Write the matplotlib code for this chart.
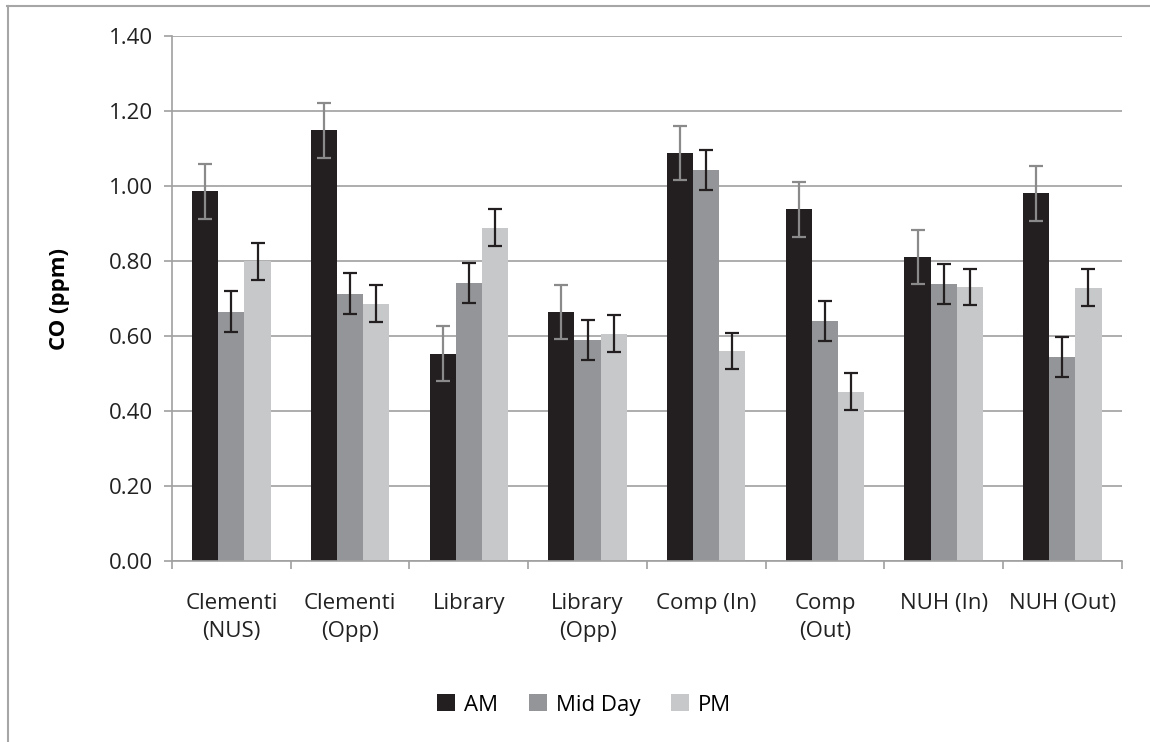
import matplotlib.pyplot as plt
import numpy as np
from matplotlib.lines import Line2D

# ---------- data ----------
sites = ['Clementi\n(NUS)', 'Clementi\n(Opp)', 'Library', 'Library\n(Opp)',
         'Comp (In)', 'Comp\n(Out)', 'NUH (In)', 'NUH (Out)']
am     = [0.986, 1.148, 0.553, 0.664, 1.088, 0.938, 0.811, 0.981]
midday = [0.665, 0.713, 0.741, 0.589, 1.043, 0.640, 0.739, 0.544]
pm     = [0.799, 0.686, 0.889, 0.606, 0.560, 0.452, 0.731, 0.729]
am_err     = [0.073, 0.073, 0.073, 0.073, 0.073, 0.073, 0.073, 0.073]
midday_err = [0.054, 0.054, 0.054, 0.054, 0.054, 0.054, 0.054, 0.054]
pm_err     = [0.049, 0.049, 0.049, 0.049, 0.049, 0.049, 0.049, 0.049]
yticks = [0.0, 0.2, 0.4, 0.6, 0.8, 1.0, 1.2, 1.4]

plt.rcParams['font.family'] = ['Open Sans', 'DejaVu Sans']
FS = 16

fig = plt.figure(figsize=(11.5, 7.42), dpi=100)
ax = fig.add_axes([0.1496, 0.2439, 0.8258, 0.7076])

# chart border (only top and left edges visible in the reference)
fig.lines.append(Line2D([7 / 1150, 1.0], [1 - 6 / 742, 1 - 6 / 742],
                        transform=fig.transFigure, color='#a6a6a6', linewidth=1.5))
fig.lines.append(Line2D([8 / 1150, 8 / 1150], [0.0, 1 - 6 / 742],
                        transform=fig.transFigure, color='#a6a6a6', linewidth=1.5))

x = np.arange(len(sites))
w = 0.22
series = [(am, am_err, '#231f20', '#8a8a8a', 'AM'),
          (midday, midday_err, '#939598', '#231f20', 'Mid Day'),
          (pm, pm_err, '#c7c8ca', '#231f20', 'PM')]
for i, (vals, errs, col, ecol, lab) in enumerate(series):
    ax.bar(x + (i - 1) * w, vals, w, color=col, label=lab, zorder=2)
    ax.errorbar(x + (i - 1) * w, vals, yerr=errs, fmt='none', ecolor=ecol,
                elinewidth=1.6, capsize=5, capthick=1.6, zorder=3)

ax.set_xlim(-0.5, len(sites) - 0.5)
ax.set_ylim(0, 1.4)
ax.set_yticks(yticks)
ax.set_yticklabels([f'{v:.2f}' for v in yticks], fontsize=FS, color='#222222')
ax.yaxis.grid(True, color='#a0a0a0', linewidth=1.2, zorder=0)
ax.set_axisbelow(True)

ax.set_xticks(x)
ax.set_xticklabels(sites, fontsize=FS, color='#222222', linespacing=1.45)
ax.tick_params(axis='x', which='major', length=0, pad=23)
ax.set_xticks(np.arange(-0.5, len(sites)), minor=True)
ax.tick_params(axis='x', which='minor', length=6, color='#a0a0a0', width=1.2)
ax.tick_params(axis='y', length=6, color='#a0a0a0', width=1.2, pad=8)

for s in ['top', 'right']:
    ax.spines[s].set_visible(False)
ax.spines['left'].set_color('#a0a0a0')
ax.spines['bottom'].set_color('#a0a0a0')
ax.spines['left'].set_linewidth(1.2)
ax.spines['bottom'].set_linewidth(1.2)

ax.set_ylabel('CO (ppm)', fontsize=FS, fontweight='bold')
ax.yaxis.set_label_coords(-0.107, 0.5)

fig.legend(loc='center', bbox_to_anchor=(0.508, 0.05), ncol=3, frameon=False,
           fontsize=FS, handlelength=0.8, handleheight=0.8, columnspacing=1.4,
           handletextpad=0.4)

fig.savefig('out.png', dpi=100)
